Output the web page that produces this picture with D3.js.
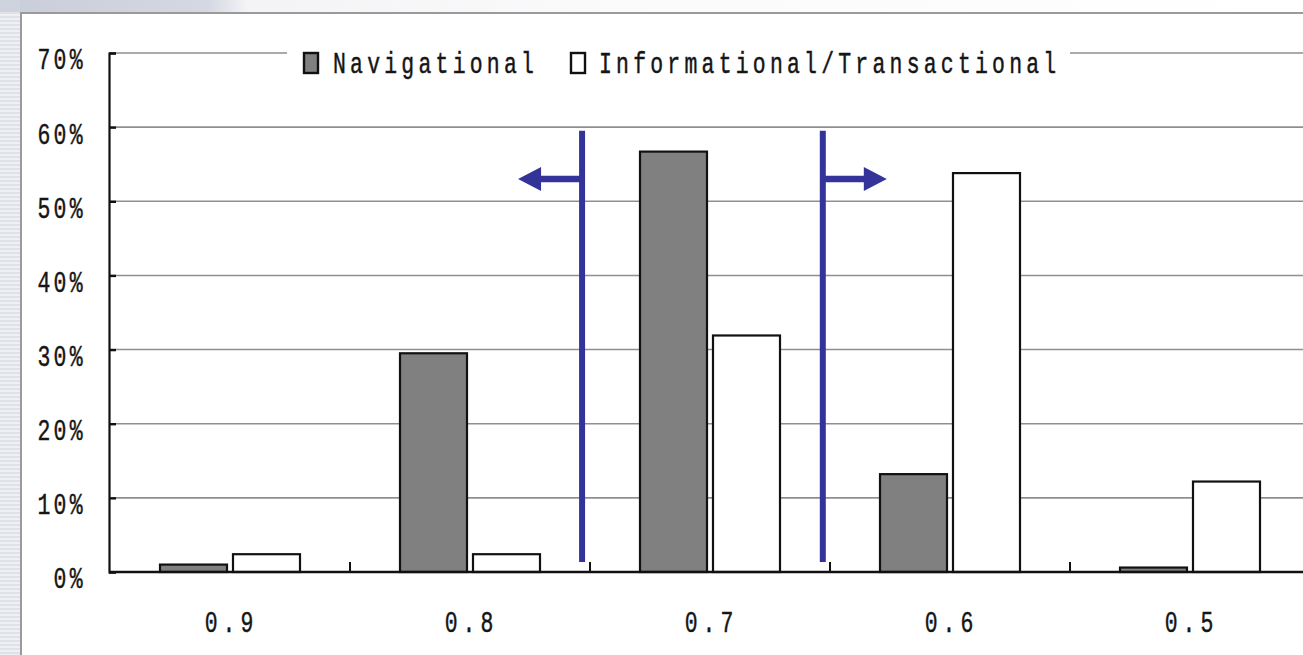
<!DOCTYPE html>
<html>
<head>
<meta charset="utf-8">
<script src="https://cdn.jsdelivr.net/npm/d3@7"></script>
<style>
  html, body { margin: 0; padding: 0; background: #fff; overflow: hidden; }
  svg { display: block; }
</style>
</head>
<body>
<svg id="chart" width="1303" height="655"></svg>
<script>
// Score thresholds on the x axis
const categories = ["0.9", "0.8", "0.7", "0.6", "0.5"];
// Share of queries in each score bucket
const navigational = [0.010, 0.295, 0.567, 0.132, 0.006];
const informational = [0.024, 0.024, 0.319, 0.538, 0.122];
const seriesNames = ["Navigational", "Informational/Transactional"];
const yTicks = [0, 0.1, 0.2, 0.3, 0.4, 0.5, 0.6, 0.7];
// Cut-off markers (in score units) with arrows pointing away from the middle bucket
const cutoffs = [0.7533, 0.6530];
const cutoffDirection = [-1, 1];
const cutoffSpan = [0.0135, 0.595];   // vertical extent, in share units
const arrowLevel = 0.53;

const rows = categories.map((c, i) => ({
  category: c,
  values: [
    { series: seriesNames[0], value: navigational[i] },
    { series: seriesNames[1], value: informational[i] }
  ]
}));

const svg = d3.select("#chart");
const W = 1303, H = 655;
const fontFamily = "'Liberation Mono', 'DejaVu Sans Mono', monospace";
const FS = 29;             // font size of all chart text
const SX = 0.74;           // horizontal squeeze of the mono glyphs
const textColor = "#151515";

// ---- page background: striped left margin, shaded top strip, panel frame
const defs = svg.append("defs");
const stripes = defs.append("pattern")
  .attr("id", "stripes").attr("patternUnits", "userSpaceOnUse")
  .attr("width", 20).attr("height", 4);
stripes.append("rect").attr("width", 20).attr("height", 4).attr("fill", "#eef0f4");
stripes.append("rect").attr("width", 20).attr("height", 2).attr("fill", "#dfe2e9");

const topGrad = defs.append("linearGradient").attr("id", "topGrad")
  .attr("x1", "0").attr("x2", "1").attr("y1", "0").attr("y2", "0");
topGrad.append("stop").attr("offset", "0").attr("stop-color", "#c9cdd9");
topGrad.append("stop").attr("offset", "0.16").attr("stop-color", "#d5d8e2");
topGrad.append("stop").attr("offset", "0.19").attr("stop-color", "#f4f4f6");
topGrad.append("stop").attr("offset", "0.5").attr("stop-color", "#fbfbfc");
topGrad.append("stop").attr("offset", "1").attr("stop-color", "#ffffff");

svg.append("rect").attr("x", 0).attr("y", 0).attr("width", W).attr("height", 12)
  .attr("fill", "url(#topGrad)");
svg.append("rect").attr("x", 0).attr("y", 0).attr("width", 20).attr("height", H)
  .attr("fill", "url(#stripes)");
svg.append("rect").attr("x", 0).attr("y", 0).attr("width", 20).attr("height", 12)
  .attr("fill", "#cfd3dd");

svg.append("rect").attr("x", 21).attr("y", 13).attr("width", W).attr("height", H)
  .attr("fill", "#fff").attr("stroke", "#9a9a9a").attr("stroke-width", 2);

// ---- scales
const x0 = d3.scaleBand().domain(categories).range([110, 1310]);
const x1 = d3.scaleBand().domain(seriesNames)
  .range([0, x0.bandwidth()]).paddingInner(6 / 73).paddingOuter(0.685);
const y = d3.scaleLinear().domain([0, 0.7]).range([572, 53]);
// continuous position along the category axis, for the cut-off markers
const xScore = d3.scaleLinear()
  .domain([+categories[0], +categories[categories.length - 1]])
  .range([x0(categories[0]) + x0.bandwidth() / 2,
          x0(categories[categories.length - 1]) + x0.bandwidth() / 2]);

function styleText(sel, spacing) {
  sel.attr("font-family", fontFamily).attr("font-size", FS)
    .attr("fill", textColor).attr("stroke", textColor).attr("stroke-width", 0.45)
    .attr("letter-spacing", spacing);
  sel.each(function () {
    const t = d3.select(this);
    const x = +t.attr("x") || 0;
    t.attr("transform", `translate(${x},0) scale(${SX},1)`).attr("x", 0);
  });
}

// ---- gridlines
svg.append("g").selectAll("line").data(yTicks.filter(d => d > 0)).join("line")
  .attr("x1", 110).attr("x2", W)
  .attr("y1", d => y(d)).attr("y2", d => y(d))
  .attr("stroke", "#8f8f8f").attr("stroke-width", 1.6);

// ---- y axis
const yAxis = svg.append("g").attr("transform", "translate(109,0)")
  .call(d3.axisLeft(y).tickValues(yTicks).tickSize(-7).tickPadding(23)
    .tickFormat(d3.format(".0%")));
yAxis.select(".domain").attr("stroke", "#111").attr("stroke-width", 2.2);
yAxis.selectAll(".tick line").attr("stroke", "#111").attr("stroke-width", 2.4);
yAxis.selectAll(".tick text").attr("dy", "0.55em").call(styleText, 4.5);

// ---- bars
const fills = { [seriesNames[0]]: "#808080", [seriesNames[1]]: "#ffffff" };
svg.append("g").selectAll("g").data(rows).join("g")
  .attr("transform", d => `translate(${x0(d.category)},0)`)
  .selectAll("rect").data(d => d.values).join("rect")
  .attr("x", d => x1(d.series))
  .attr("width", x1.bandwidth())
  .attr("y", d => y(d.value))
  .attr("height", d => y(0) - y(d.value))
  .attr("fill", d => fills[d.series])
  .attr("stroke", "#111").attr("stroke-width", 2.2);

// ---- x axis (labels under bucket centers, ticks on bucket boundaries)
const xAxis = svg.append("g").attr("transform", `translate(0,${y(0)})`)
  .call(d3.axisBottom(x0).tickSize(0).tickPadding(39));
xAxis.select(".domain").remove();
xAxis.selectAll(".tick text").attr("dx", 2).call(styleText, 6.8);
svg.append("line").attr("x1", 109).attr("x2", W).attr("y1", y(0)).attr("y2", y(0))
  .attr("stroke", "#111").attr("stroke-width", 2.4);
svg.append("g").selectAll("line").data(categories.slice(0, -1)).join("line")
  .attr("x1", d => x0(d) + x0.bandwidth()).attr("x2", d => x0(d) + x0.bandwidth())
  .attr("y1", y(0)).attr("y2", y(0) - 10)
  .attr("stroke", "#111").attr("stroke-width", 2);

// ---- cut-off markers
const blue = "#33339a";
const marks = svg.append("g");
cutoffs.forEach((c, i) => {
  const cx = xScore(c);
  const dir = cutoffDirection[i];
  const ay = y(arrowLevel);
  marks.append("line").attr("x1", cx).attr("x2", cx)
    .attr("y1", y(cutoffSpan[1])).attr("y2", y(cutoffSpan[0]))
    .attr("stroke", blue).attr("stroke-width", 6);
  const tip = cx + dir * 64, base = cx + dir * 41;
  marks.append("line").attr("x1", cx).attr("x2", base + dir * 2)
    .attr("y1", ay).attr("y2", ay)
    .attr("stroke", blue).attr("stroke-width", 6.5);
  marks.append("path")
    .attr("d", `M${tip},${ay} L${base},${ay - 12} L${base},${ay + 12} Z`)
    .attr("fill", blue);
});

// ---- legend, sitting on the top gridline
const legend = svg.append("g");
legend.append("rect").attr("x", 287).attr("y", 40).attr("width", 783).attr("height", 30)
  .attr("fill", "#fff");
const legendX = [[304, 333], [571, 599]];
seriesNames.forEach((name, i) => {
  legend.append("rect").attr("x", legendX[i][0]).attr("y", 53)
    .attr("width", 14).attr("height", 20)
    .attr("fill", fills[name]).attr("stroke", "#111").attr("stroke-width", 2.4);
  legend.append("text").attr("x", legendX[i][1]).attr("y", 73)
    .text(name)
    .call(styleText, 5.7);
});
</script>
</body>
</html>
